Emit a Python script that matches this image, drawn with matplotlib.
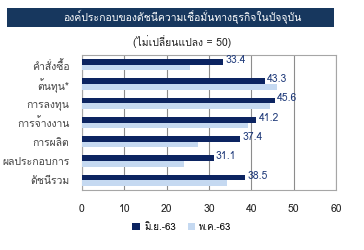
import numpy as np
import matplotlib
matplotlib.use("Agg")
import matplotlib.pyplot as plt
from matplotlib import font_manager
from matplotlib.ft2font import FT2Font
from matplotlib.patches import Rectangle

# หาฟอนต์ที่มีอักษรไทย
thai_fonts = []
for f in font_manager.fontManager.ttflist:
    try:
        if 0x0E2D in FT2Font(f.fname).get_charmap() and f.name not in thai_fonts:
            thai_fonts.append(f.name)
    except Exception:
        pass
plt.rcParams['font.family'] = thai_fonts + ['DejaVu Sans']

categories = ["คำสั่งซื้อ", "ต้นทุน*", "การลงทุน", "การจ้างงาน", "การผลิต", "ผลประกอบการ", "ดัชนีรวม"]
jun63 = [33.4, 43.3, 45.6, 41.2, 37.4, 31.1, 38.5]
may63 = [25.5, 46.0, 44.4, 39.3, 27.5, 24.0, 34.3]
series_names = ["มิ.ย.-63", "พ.ค.-63"]
title = "องค์ประกอบของดัชนีความเชื่อมั่นทางธุรกิจในปัจจุบัน"
subtitle = "(ไม่เปลี่ยนแปลง = 50)"

dark = "#0c2461"
light = "#c5d9f1"

fig = plt.figure(figsize=(3.64, 2.5), dpi=100)
ax = fig.add_axes([0.225, 0.24, 0.698, 0.54])

y = np.arange(len(categories))
h = 0.29
ax.barh(y - h / 2, jun63, height=h, color=dark, label=series_names[0], zorder=3)
ax.barh(y + h / 2, may63, height=h, color=light, label=series_names[1], zorder=3)

for yi, v in zip(y, jun63):
    ax.text(v + 0.5, yi - h / 2 - 0.1, f"{v:.1f}", color="#1f3a7a", fontsize=7.5,
            ha="left", va="center", zorder=4)

ax.set_xlim(0, 60)
ax.set_xticks(range(0, 61, 10))
ax.set_ylim(len(categories) - 0.5, -0.5)
ax.set_yticks(y)
ax.set_yticklabels(categories, fontsize=7.5, color="#404040")
ax.tick_params(axis="x", labelsize=7.5, length=0, pad=10, colors="#222222")
ax.tick_params(axis="y", length=0, pad=9)
ax.grid(axis="x", color="#8c8c8c", linewidth=0.8, zorder=0)
for s in ax.spines.values():
    s.set_color("#a6a6a6")
    s.set_linewidth(0.8)

# แถบหัวเรื่อง
fig.patches.append(Rectangle((0.019, 0.892), 0.899, 0.076, transform=fig.transFigure,
                             facecolor="#17375e", edgecolor="none"))
fig.text(0.5, 0.93, title, ha="center", va="center", color="white", fontsize=7.5)
fig.text(0.5, 0.835, subtitle, ha="center", va="center", fontsize=7.5, color="#222222")

fig.legend(loc="center", bbox_to_anchor=(0.5, 0.09), ncol=2, frameon=False,
           fontsize=7, handlelength=0.8, handleheight=0.8, columnspacing=1.2,
           handletextpad=0.4)

fig.savefig("out.png", dpi=100)
